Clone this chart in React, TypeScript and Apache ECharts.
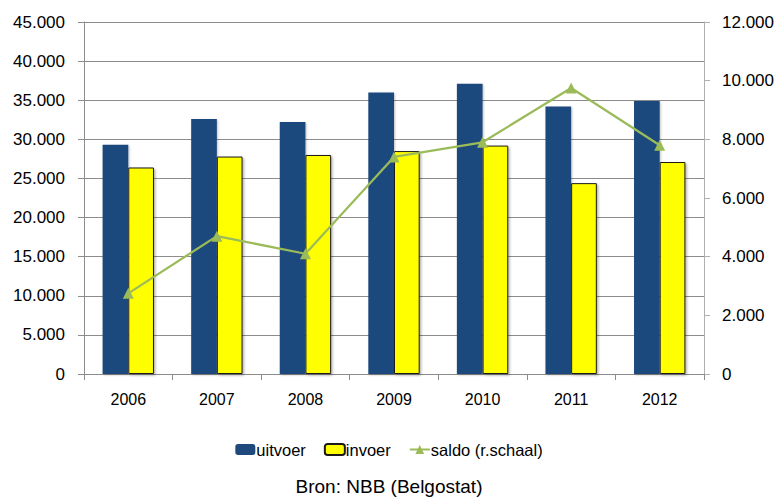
import React, { useEffect, useRef } from "react";
import * as echarts from "echarts";

const years = ["2006", "2007", "2008", "2009", "2010", "2011", "2012"];
const uitvoer = [29300, 32600, 32200, 36000, 37100, 34200, 34900];
const invoer = [26400, 27800, 28000, 28500, 29200, 24400, 27100];
const saldo = [2750, 4700, 4100, 7400, 7900, 9750, 7800];

const FONT = "'Liberation Sans', Arial, sans-serif";

// Dutch-style thousands separator: 45000 -> "45.000"
const fmt = (v: number) =>
  String(Math.round(v)).replace(/\B(?=(\d{3})+(?!\d))/g, ".");

export default function App() {
  const ref = useRef<HTMLDivElement>(null);

  useEffect(() => {
    if (!ref.current) return;
    const chart = echarts.init(ref.current, undefined, { renderer: "svg" });
    chart.setOption({
      animation: false,
      backgroundColor: "#ffffff",
      textStyle: { fontFamily: FONT, color: "#000" },
      grid: { left: 84, right: 74, top: 22, bottom: 125 },
      legend: {
        bottom: 36,
        left: "center",
        itemWidth: 20,
        itemHeight: 11,
        itemGap: 18,
        textStyle: { fontFamily: FONT, fontSize: 16.5, color: "#000", padding: [0, 0, 0, -4] },
        data: ["uitvoer", "invoer", "saldo (r.schaal)"],
      },
      graphic: [
        {
          type: "text",
          left: "center",
          bottom: 3,
          style: {
            text: "Bron: NBB (Belgostat)",
            fontFamily: FONT,
            fontSize: 19,
            fill: "#000",
          },
        },
      ],
      xAxis: {
        type: "category",
        data: years,
        axisLine: { lineStyle: { color: "#8c8c8c", width: 1 } },
        axisTick: { show: true, length: 6, lineStyle: { color: "#8c8c8c" } },
        axisLabel: { fontFamily: FONT, fontSize: 16, color: "#000", margin: 17 },
      },
      yAxis: [
        {
          type: "value",
          min: 0,
          max: 45000,
          interval: 5000,
          axisLine: { show: true, lineStyle: { color: "#8c8c8c" } },
          axisTick: { show: true, length: 6, lineStyle: { color: "#8c8c8c" } },
          splitLine: { show: true, lineStyle: { color: "#8c8c8c", width: 1 } },
          axisLabel: {
            fontFamily: FONT,
            fontSize: 17,
            color: "#000",
            margin: 19,
            formatter: fmt,
          },
        },
        {
          type: "value",
          min: 0,
          max: 12000,
          interval: 2000,
          position: "right",
          axisLine: { show: true, lineStyle: { color: "#b0b0b0" } },
          axisTick: { show: true, length: 6, lineStyle: { color: "#b0b0b0" } },
          splitLine: { show: false },
          axisLabel: {
            fontFamily: FONT,
            fontSize: 17,
            color: "#000",
            margin: 18,
            formatter: fmt,
          },
        },
      ],
      series: [
        {
          name: "uitvoer",
          type: "bar",
          data: uitvoer,
          barGap: "0%",
          barCategoryGap: "42%",
          itemStyle: {
            color: "#1F497D",
            shadowColor: "rgba(0,0,0,0.25)",
            shadowBlur: 2,
            shadowOffsetX: 1,
            shadowOffsetY: 1,
          },
        },
        {
          name: "invoer",
          type: "bar",
          data: invoer,
          itemStyle: {
            color: "#FFFF00",
            borderColor: "#1a1a1a",
            borderWidth: 1,
            shadowColor: "rgba(0,0,0,0.3)",
            shadowBlur: 2,
            shadowOffsetX: 1.5,
            shadowOffsetY: 1.5,
          },
        },
        {
          name: "saldo (r.schaal)",
          type: "line",
          yAxisIndex: 1,
          data: saldo,
          symbol: "triangle",
          symbolSize: 11,
          lineStyle: { color: "#9BBB59", width: 2.25 },
          itemStyle: { color: "#9BBB59" },
        },
      ],
    });
    return () => chart.dispose();
  }, []);

  return (
    <div
      ref={ref}
      style={{ position: "fixed", left: 0, top: 0, width: 778, height: 499 }}
    />
  );
}
